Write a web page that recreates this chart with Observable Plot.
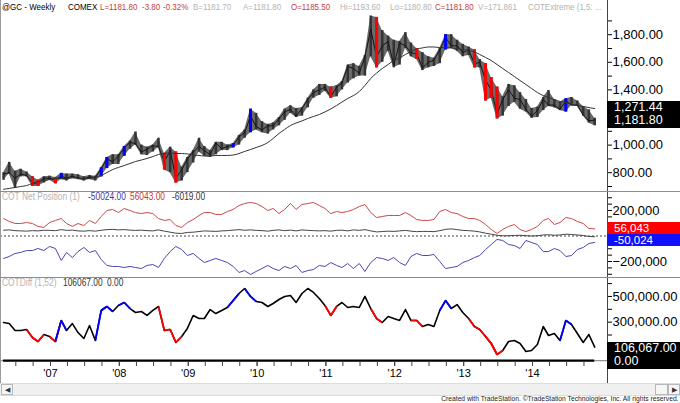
<!DOCTYPE html>
<html><head><meta charset="utf-8">
<script src="https://cdn.jsdelivr.net/npm/d3@7"></script>
<script src="https://cdn.jsdelivr.net/npm/@observablehq/plot@0.6"></script>
<style>
html,body{margin:0;padding:0;background:#fff;}
#wrap{position:relative;width:680px;height:403px;overflow:hidden;font-family:"Liberation Sans",Arial,Helvetica,sans-serif;}
.panel{position:absolute;left:0;width:680px;}
.panel svg{display:block;}
.t{position:absolute;white-space:pre;line-height:1;}
.box{position:absolute;left:607px;width:73px;color:#fff;font-size:13px;line-height:13px;padding-left:7px;box-sizing:border-box;}
.hl{position:absolute;left:0;height:1px;background:#8c8c8c;}
.vl{position:absolute;top:0;width:1px;background:#555;}
</style></head><body><div id="wrap"></div>
<script>
// ---------- DATA (monthly readings, Apr 2006 .. Nov 2014) ----------
const firstYear = 2006, firstMonth = 3, monthDay = 27, nMonths = 104;

const priceHigh = [800,875,810,825,805,770,745,770,775,765,
 795,790,790,785,770,780,775,835,910,930,
 930,990,1030,1095,1000,985,1000,1050,940,985,
 950,840,910,960,1050,990,960,1020,1020,1000,
 1010,1070,1110,1260,1230,1170,1150,1160,1200,1260,
 1285,1265,1270,1340,1400,1440,1440,1420,1430,1460,
 1580,1590,1570,1650,1935,1925,1830,1790,1760,1750,
 1815,1740,1700,1670,1640,1630,1700,1800,1800,1760,
 1730,1710,1690,1620,1590,1490,1420,1350,1440,1430,
 1380,1330,1265,1275,1345,1395,1330,1310,1335,1345,
 1320,1280,1255,1195];
const priceLow = [745,790,686,770,770,700,700,725,745,720,
 750,740,760,750,740,750,740,770,830,860,
 860,920,970,1000,930,925,950,980,820,800,
 725,740,800,870,950,920,910,930,960,960,
 980,1000,1050,1090,1110,1090,1080,1110,1140,1180,
 1230,1200,1210,1270,1340,1360,1390,1340,1350,1400,
 1450,1480,1500,1500,1640,1560,1600,1680,1560,1580,
 1700,1640,1620,1540,1560,1570,1590,1690,1700,1680,
 1640,1650,1560,1560,1320,1340,1190,1210,1280,1310,
 1260,1240,1195,1200,1250,1280,1270,1250,1240,1285,
 1280,1210,1160,1140];
const priceClose = [790,800,760,790,780,725,725,760,760,750,
 775,760,775,760,755,770,765,830,900,880,
 920,980,1020,1010,950,970,995,990,880,960,
 760,820,900,950,990,960,930,1015,975,990,
 1000,1060,1090,1210,1135,1110,1140,1140,1190,1240,
 1260,1210,1265,1330,1380,1400,1420,1350,1420,1450,
 1570,1555,1520,1640,1840,1640,1720,1750,1580,1740,
 1720,1670,1660,1560,1600,1615,1690,1780,1720,1720,
 1670,1690,1590,1600,1470,1400,1230,1330,1400,1340,
 1330,1260,1210,1250,1330,1290,1290,1260,1320,1290,
 1290,1220,1175,1182];
const movingAvg = [680,686,693,700,707,722,736,743,751,758,
 758,758,762,762,758,758,765,780,801,823,
 838,852,867,881,892,903,917,932,939,943,
 939,939,936,928,925,921,921,925,925,925,
 928,939,954,968,983,997,1019,1048,1084,1113,
 1142,1160,1175,1193,1207,1222,1240,1262,1287,1312,
 1338,1359,1388,1432,1483,1522,1555,1584,1613,1631,
 1657,1678,1696,1704,1711,1711,1707,1707,1704,1700,
 1693,1686,1675,1657,1635,1613,1584,1555,1526,1497,
 1468,1439,1410,1381,1359,1345,1330,1316,1309,1298,
 1287,1280,1272,1265];

// COT net positions, thousands of contracts
const cotLarge = [137,114,98,98,106,98,75,67,106,122,
 137,98,75,98,82,122,98,153,200,208,
 184,216,200,184,176,184,176,137,122,129,
 82,67,106,129,161,184,184,169,169,192,
 208,239,255,263,255,231,200,216,176,208,
 255,208,247,255,263,239,216,176,192,184,
 192,208,231,247,184,145,153,161,161,161,
 184,161,129,122,122,129,192,208,184,176,
 153,137,137,122,90,51,20,51,75,90,
 51,35,51,75,122,137,90,106,145,137,
 114,98,59,56];
const cotCommercial = [-176,-161,-137,-129,-114,-114,-98,-114,-82,-98,
 -192,-129,-169,-122,-90,-129,-114,-184,-231,-239,
 -239,-247,-239,-247,-255,-231,-224,-247,-176,-122,
 -82,-106,-153,-137,-176,-208,-192,-176,-192,-208,
 -239,-286,-271,-302,-278,-255,-231,-255,-271,-239,
 -255,-231,-286,-271,-263,-231,-239,-208,-231,-247,
 -216,-255,-216,-278,-208,-169,-176,-192,-169,-208,
 -231,-161,-137,-153,-153,-145,-200,-255,-247,-239,
 -208,-192,-169,-153,-106,-67,-27,-35,-67,-75,
 -98,-35,-51,-67,-122,-122,-98,-114,-161,-153,
 -106,-90,-59,-50];
const cotSmall = [45,48,42,40,38,42,40,45,44,42,
 50,44,46,40,38,42,38,45,50,52,
 48,50,46,44,46,42,40,48,38,30,
 22,20,28,30,35,40,38,36,40,42,
 46,50,45,48,44,42,38,44,48,42,
 46,40,48,44,42,40,42,38,44,46,
 40,48,44,50,40,32,35,38,36,40,
 44,38,34,36,36,34,42,52,56,50,
 44,42,38,32,22,14,6,2,2,4,
 6,2,0,2,8,10,6,8,14,12,
 8,4,-4,-6];
// COTDiff (1,52), thousands
const cotDiff = [297,289,235,235,243,180,149,204,188,149,
 313,235,289,219,173,274,157,391,422,383,
 430,453,406,375,383,352,391,422,235,243,
 142,188,251,352,328,328,398,367,391,414,
 468,523,562,500,461,453,422,445,476,500,
 507,453,523,562,531,484,430,352,422,453,
 414,422,414,500,406,328,297,344,328,313,
 398,313,313,266,282,266,391,468,406,437,
 375,328,266,243,188,134,48,79,149,157,
 134,72,79,126,266,196,212,157,313,282,
 212,142,204,106];
// COTExtreme signal months (index into the monthly series)
const redSignal = [5,6,9,28,30,57,65,72,82,84,85,86];
const blueSignal = [10,17,18,21,40,43,77,98];

// ticks and labels
const priceTicks = [700,800,900,1000,1100,1200,1300,1400,1500,1600,1700,1800,1900];
const priceLabels = [800,1000,1400,1600,1800];
const cotTicks = [-300,-250,-200,-150,-100,-50,0,50,100,150,200,250,300];
const cotLabels = [-200,200];
const diffTicks = [0,100,200,300,400,500,600];
const diffLabels = [300,500];
const yearTicks = [2007,2008,2009,2010,2011,2012,2013,2014];

// ---------- BUILD ----------
const dates = d3.range(nMonths).map(i => new Date(Date.UTC(firstYear, firstMonth + i, monthDay)));
const rows = dates.map((date, i) => ({
  date, high: priceHigh[i], low: priceLow[i], close: priceClose[i], ma: movingAvg[i],
  large: cotLarge[i], comm: cotCommercial[i], small: cotSmall[i], diff: cotDiff[i],
  ext: redSignal.includes(i) ? "r" : blueSignal.includes(i) ? "b" : ""
}));
const flagged = rows.filter(d => d.ext);
const segs = [];
rows.forEach((d, i) => {
  if (!d.ext) return;
  if (i > 0) segs.push({a: rows[i - 1], b: d, c: d.ext});
  if (i < rows.length - 1) segs.push({a: d, b: rows[i + 1], c: d.ext});
});
const RED = "#ff0000", BLUE = "#0000ff";
const FONT = "'Liberation Sans', Arial, Helvetica, sans-serif";
const xScale = {type: "utc", domain: [new Date(Date.UTC(2007, 0, 1)), new Date(Date.UTC(2014, 0, 1))], range: [50, 532], axis: null};
const baseStyle = {background: "transparent", overflow: "visible", fontFamily: FONT, color: "#000"};

const wrap = document.getElementById("wrap");
function panel(top, svg) {
  const d = document.createElement("div");
  d.className = "panel"; d.style.top = top + "px";
  d.appendChild(svg); wrap.appendChild(d);
}

// Price panel
panel(0, Plot.plot({
  width: 680, height: 191, marginLeft: 0, marginRight: 73, marginTop: 0, marginBottom: 0,
  style: baseStyle,
  x: xScale,
  y: {domain: [700, 1900], range: [186, 20.4], axis: null},
  marks: [
    Plot.areaY(rows, {x: "date", y1: "low", y2: "high", fill: "#6a6a6a"}),
    Plot.ruleX(rows, {x: "date", y1: "low", y2: "high", stroke: "#333", strokeWidth: 2.5}),
    Plot.line(rows, {x: "date", y: "close", stroke: "#151515", strokeWidth: 1}),
    Plot.ruleX(flagged, {x: "date", y1: "low", y2: "high", stroke: d => d.ext === "r" ? RED : BLUE, strokeWidth: 3}),
    Plot.line(rows, {x: "date", y: "ma", stroke: "#333", strokeWidth: 1, curve: "monotone-x"}),
    Plot.axisY(priceTicks, {anchor: "right", label: null, tickSize: 4, tickPadding: 1, fontSize: 13,
      tickFormat: d => priceLabels.includes(d) ? d3.format(",.2f")(d) : ""})
  ]
}));

// COT net position panel
panel(191, Plot.plot({
  width: 680, height: 86, marginLeft: 0, marginRight: 73, marginTop: 0, marginBottom: 0,
  style: baseStyle,
  x: xScale,
  y: {domain: [-300, 300], range: [82.75, 6.25], axis: null},
  marks: [
    Plot.ruleY([0], {stroke: "#444", strokeDasharray: "2,2"}),
    Plot.line(rows, {x: "date", y: "large", stroke: "#cc4848", strokeWidth: 1}),
    Plot.line(rows, {x: "date", y: "small", stroke: "#444", strokeWidth: 1}),
    Plot.line(rows, {x: "date", y: "comm", stroke: "#4848b0", strokeWidth: 1}),
    Plot.axisY(cotTicks, {anchor: "right", label: null, tickSize: 4, tickPadding: 1, fontSize: 13,
      tickFormat: d => cotLabels.includes(d) ? d3.format(",")(d * 1000) : ""})
  ]
}));

// COTDiff panel + time axis
panel(277, Plot.plot({
  width: 680, height: 106, marginLeft: 0, marginRight: 73, marginTop: 0, marginBottom: 22,
  style: baseStyle,
  x: xScale,
  y: {domain: [0, 700], range: [83.2, -6.75], axis: null},
  marks: [
    Plot.ruleY([0], {stroke: "#777", strokeWidth: 1}),
    Plot.ruleY([0], {x1: dates[0], x2: dates[dates.length - 1], stroke: "#000", strokeWidth: 2.2}),
    Plot.line(rows, {x: "date", y: "diff", stroke: "#000", strokeWidth: 1.6}),
    Plot.link(segs, {x1: s => s.a.date, y1: s => s.a.diff, x2: s => s.b.date, y2: s => s.b.diff,
      stroke: s => s.c === "r" ? RED : BLUE, strokeWidth: 1.8}),
    Plot.axisY(diffTicks, {anchor: "right", label: null, tickSize: 4, tickPadding: 1, fontSize: 13,
      tickFormat: d => diffLabels.includes(d) ? d3.format(",.2f")(d * 1000) : ""}),
    Plot.axisX(d3.utcMonth.every(3).range(new Date(Date.UTC(2006, 6, 1)), new Date(Date.UTC(2015, 0, 1))),
      {anchor: "bottom", label: null, tickSize: 5, tickFormat: () => "", stroke: "#444"}),
    Plot.axisX(yearTicks.map(y => new Date(Date.UTC(y, 0, 1))),
      {anchor: "bottom", label: null, tickSize: 5, tickPadding: 3, fontSize: 11, stroke: "#444",
       tickFormat: d => "'" + d3.utcFormat("%y")(d)})
  ]
}));

// ---------- overlays ----------
function el(cls, css, html) {
  const d = document.createElement("div");
  d.className = cls; Object.assign(d.style, css);
  if (html != null) d.innerHTML = html;
  wrap.appendChild(d); return d;
}
function txt(s, x, y, color, size, sx) {
  el("t", {left: x + "px", top: (y - size / 2) + "px", color, fontSize: size + "px",
    transform: "scaleX(" + sx + ")", transformOrigin: "0 50%"}).textContent = s;
}
// frame lines
el("vl", {left: "0px", height: "383px", background: "#9a9a9a"});
el("vl", {left: "607px", height: "383px", background: "#444"});
el("hl", {top: "191px", width: "680px"});
el("hl", {top: "277px", width: "680px"});

const GRAY = "#b4b4b4", HRED = "#c83c3c";
[["@GC - Weekly", 2, "#000"], ["COMEX", 68, "#000"], ["L=1181.80", 100, HRED], ["-3.80", 142, HRED],
 ["-0.32%", 163, HRED], ["B=1181.70", 193, GRAY], ["A=1181.80", 243, GRAY], ["O=1185.50", 291, HRED],
 ["Hi=1193.60", 340, GRAY], ["Lo=1180.80", 390, GRAY], ["C=1181.80", 435, HRED], ["V=171,861", 478, GRAY],
 ["COTExtreme (1,5: ...", 528, GRAY]].forEach(([s, x, c]) => txt(s, x, 7, c, 9.5, 0.84));

[["COT Net Position (1)", 2, GRAY], ["-50024.00", 88, "#3c3ca0"], ["56043.00", 130, "#c03c3c"], ["-6019.00", 172, "#333"]]
  .forEach(([s, x, c]) => txt(s, x, 197, c, 10, 0.84));
[["COTDiff (1,52)", 2, GRAY], ["106067.00", 63, "#333"], ["0.00", 107, "#333"]]
  .forEach(([s, x, c]) => txt(s, x, 283, c, 10, 0.84));

// value boxes
el("box", {top: "100.5px", height: "27px", lineHeight: "13.5px", fontSize: "12.5px", background: "#000"}, "1,271.44<br>1,181.80");
el("box", {top: "222px", height: "12px", lineHeight: "12px", fontSize: "11.5px", background: RED}, "56,043");
el("box", {top: "234px", height: "12px", lineHeight: "12px", fontSize: "11.5px", background: "#1010ff"}, "-50,024");
el("box", {top: "341.5px", height: "27px", lineHeight: "13.5px", fontSize: "12.5px", background: "#000"}, "106,067.00<br>0.00");

// scrollbar
el("t", {left: "0px", top: "383px", width: "680px", height: "11px", background: "#f0f0f0", borderTop: "1px solid #dcdcdc", borderBottom: "1px solid #dcdcdc"});
el("t", {left: "1px", top: "384px", width: "10px", height: "9px", background: "#f6f6f6", border: "1px solid #b8b8b8", fontSize: "7px", textAlign: "center", color: "#333", lineHeight: "9px"}, "&#9664;");
el("t", {left: "655px", top: "384px", width: "11px", height: "9px", background: "#f6f6f6", border: "1px solid #b8b8b8"});
el("t", {left: "668px", top: "384px", width: "10px", height: "9px", background: "#f6f6f6", border: "1px solid #b8b8b8", fontSize: "7px", textAlign: "center", color: "#333", lineHeight: "9px"}, "&#9654;");
// footer
el("t", {right: "2px", top: "395px", fontSize: "8px", color: "#222", transform: "scaleX(0.84)", transformOrigin: "100% 50%"},
  "Created with TradeStation. &copy;TradeStation Technologies, Inc. All rights reserved.");
</script></body></html>
